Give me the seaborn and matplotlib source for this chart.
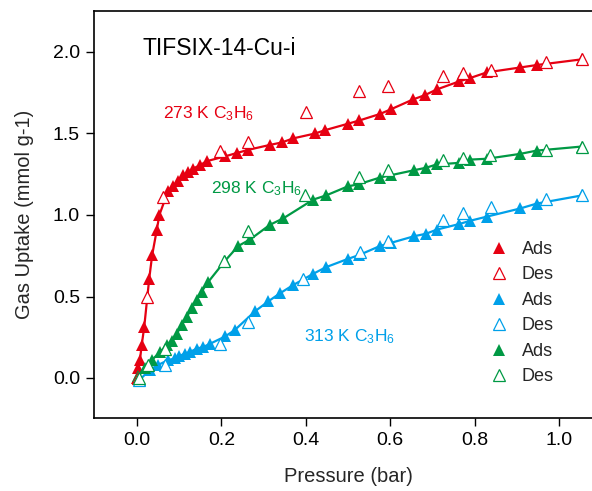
import matplotlib
matplotlib.use("Agg")
import matplotlib.pyplot as plt
import seaborn as sns
import pandas as pd
from matplotlib.lines import Line2D

# ---------------- data ----------------
red_ads_x = [0.0, 0.003, 0.007, 0.011, 0.017, 0.029, 0.036, 0.047, 0.053, 0.074, 0.086, 0.098,
             0.11, 0.122, 0.133, 0.149, 0.165, 0.209, 0.236, 0.264, 0.315, 0.343, 0.37, 0.422,
             0.445, 0.50, 0.527, 0.576, 0.603, 0.655, 0.682, 0.71, 0.764, 0.789, 0.829, 0.908,
             0.947, 1.054]
red_ads_y = [0.0, 0.06, 0.11, 0.20, 0.31, 0.61, 0.755, 0.91, 1.0, 1.15, 1.18, 1.21,
             1.245, 1.265, 1.285, 1.305, 1.33, 1.36, 1.38, 1.40, 1.43, 1.445, 1.47, 1.50,
             1.52, 1.56, 1.58, 1.62, 1.65, 1.71, 1.735, 1.77, 1.82, 1.84, 1.875, 1.905,
             1.92, 1.955]
red_des_x = [0.002, 0.023, 0.062, 0.197, 0.264, 0.40, 0.527, 0.594, 0.724, 0.772, 0.838, 0.969, 1.054]
red_des_y = [0.0, 0.50, 1.11, 1.39, 1.45, 1.63, 1.76, 1.79, 1.85, 1.87, 1.89, 1.94, 1.96]

blue_ads_x = [0.007, 0.03, 0.05, 0.074, 0.09, 0.10, 0.114, 0.126, 0.141, 0.157, 0.173, 0.209,
              0.232, 0.28, 0.311, 0.339, 0.37, 0.418, 0.448, 0.499, 0.527, 0.576, 0.603, 0.657,
              0.685, 0.71, 0.764, 0.79, 0.829, 0.908, 0.947, 1.054]
blue_ads_y = [-0.01, 0.05, 0.08, 0.11, 0.12, 0.135, 0.15, 0.16, 0.18, 0.19, 0.21, 0.255,
              0.295, 0.41, 0.47, 0.52, 0.57, 0.64, 0.68, 0.73, 0.755, 0.81, 0.83, 0.87,
              0.885, 0.91, 0.945, 0.965, 0.99, 1.04, 1.07, 1.12]
blue_des_x = [0.004, 0.066, 0.197, 0.264, 0.394, 0.528, 0.594, 0.724, 0.772, 0.839, 0.969, 1.054]
blue_des_y = [-0.01, 0.08, 0.21, 0.345, 0.61, 0.77, 0.84, 0.97, 1.01, 1.05, 1.10, 1.12]

green_ads_x = [0.003, 0.019, 0.035, 0.055, 0.07, 0.082, 0.094, 0.106, 0.118, 0.13, 0.141, 0.153,
               0.169, 0.209, 0.24, 0.268, 0.315, 0.347, 0.418, 0.448, 0.499, 0.527, 0.576,
               0.603, 0.657, 0.685, 0.71, 0.764, 0.79, 0.829, 0.908, 0.947, 1.054]
green_ads_y = [0.01, 0.06, 0.11, 0.16, 0.20, 0.23, 0.27, 0.325, 0.375, 0.43, 0.48, 0.53,
               0.59, 0.72, 0.81, 0.85, 0.94, 0.98, 1.095, 1.12, 1.175, 1.19, 1.23,
               1.245, 1.275, 1.29, 1.31, 1.32, 1.34, 1.345, 1.375, 1.395, 1.42]
green_des_x = [0.004, 0.027, 0.066, 0.205, 0.264, 0.398, 0.527, 0.594, 0.724, 0.772, 0.836, 0.969, 1.054]
green_des_y = [0.0, 0.08, 0.18, 0.72, 0.90, 1.12, 1.235, 1.275, 1.335, 1.35, 1.37, 1.40, 1.42]

series_labels = ["273 K C$_3$H$_6$", "298 K C$_3$H$_6$", "313 K C$_3$H$_6$"]
legend_labels = ["Ads", "Des", "Ads", "Des", "Ads", "Des"]
title_text = "TIFSIX-14-Cu-i"
xticks = [0.0, 0.2, 0.4, 0.6, 0.8, 1.0]
yticks = [0.0, 0.5, 1.0, 1.5, 2.0]

RED = "#E60012"
BLUE = "#00A0E9"
GREEN = "#009944"

# ---------------- style ----------------
sns.set_theme(style="ticks")
plt.rcParams["font.family"] = ["Liberation Sans", "DejaVu Sans"]
plt.rcParams["mathtext.fontset"] = "custom"
plt.rcParams["mathtext.rm"] = "Liberation Sans"
plt.rcParams["mathtext.it"] = "Liberation Sans"
plt.rcParams["mathtext.default"] = "regular"

fig = plt.figure(figsize=(5.92, 4.91), dpi=100)
ax = fig.add_axes([94 / 592, 1 - 418 / 491, 1 - 94 / 592, (418 - 11) / 491])

MS = 8.5

def draw(ads_x, ads_y, des_x, des_y, color):
    ads = pd.DataFrame({"p": ads_x, "q": ads_y})
    des = pd.DataFrame({"p": des_x, "q": des_y})
    sns.lineplot(data=ads, x="p", y="q", ax=ax, color=color, lw=1.6, sort=False,
                 estimator=None, marker="^", markersize=MS, markeredgewidth=0,
                 markerfacecolor=color, zorder=3)
    sns.lineplot(data=des, x="p", y="q", ax=ax, color=color, sort=False, estimator=None,
                 linestyle="none", marker="^", markersize=MS, markerfacecolor="white",
                 markeredgecolor=color, markeredgewidth=0.9, zorder=4)

draw(red_ads_x, red_ads_y, red_des_x, red_des_y, RED)
draw(blue_ads_x, blue_ads_y, blue_des_x, blue_des_y, BLUE)
draw(green_ads_x, green_ads_y, green_des_x, green_des_y, GREEN)

ax.set_xlim((94 - 137) / 422, (592 - 137) / 422)
ax.set_ylim((378 - 418) / 163, (378 - 11) / 163)
ax.set_xticks(xticks)
ax.set_yticks(yticks)
ax.set_xticklabels([f"{t:.1f}" for t in xticks])
ax.set_yticklabels([f"{t:.1f}" for t in yticks])
ax.tick_params(axis="both", direction="out", length=6, width=1.0, labelsize=14,
               colors="black", pad=4)
for s in ["left", "bottom", "top"]:
    ax.spines[s].set_linewidth(1.2)
    ax.spines[s].set_color("black")
ax.spines["right"].set_visible(False)

ax.set_xlabel("Pressure (bar)", fontsize=14.5)
ax.set_ylabel("Gas Uptake (mmol g-1)", fontsize=14.5)
ax.xaxis.set_label_coords(0.51, -0.12)
ax.yaxis.set_label_coords(-0.12, 0.5)

ax.text(0.014, 2.02, title_text, fontsize=16.5, ha="left", va="center", color="black")
ax.text(0.062, 1.595, series_labels[0], fontsize=12.5, color=RED, ha="left", va="baseline")
ax.text(0.175, 1.135, series_labels[1], fontsize=12.5, color=GREEN, ha="left", va="baseline")
ax.text(0.396, 0.223, series_labels[2], fontsize=12.5, color=BLUE, ha="left", va="baseline")

handles = []
for c in [RED, BLUE, GREEN]:
    handles.append(Line2D([], [], linestyle="none", marker="^", markersize=MS,
                          markerfacecolor=c, markeredgewidth=0, color=c))
    handles.append(Line2D([], [], linestyle="none", marker="^", markersize=MS,
                          markerfacecolor="white", markeredgecolor=c, markeredgewidth=0.9))
fig.legend(handles, legend_labels, loc="upper left", bbox_to_anchor=(490 / 592, 1 - 241 / 491),
           bbox_transform=fig.transFigure, frameon=False, fontsize=13, handlelength=1.0,
           handletextpad=0.76, labelspacing=0.47, borderpad=0, borderaxespad=0)

fig.savefig("out.png", dpi=100)
